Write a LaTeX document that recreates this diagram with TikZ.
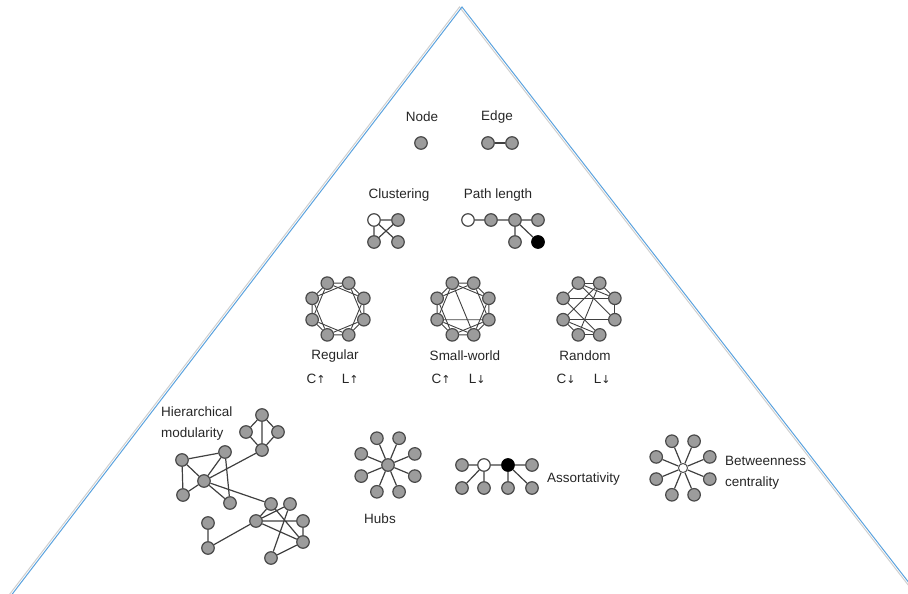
\documentclass[tikz,border=0pt]{standalone}
\usepackage{fontspec}
\setmainfont{Liberation Sans}
\newfontfamily\arrowfont{DejaVu Sans}
\usetikzlibrary{positioning,calc}
\definecolor{vertexfill}{HTML}{9C9C9C}
\definecolor{vertexline}{HTML}{4A4A4A}
\definecolor{linkcol}{HTML}{404040}
\definecolor{pyrblue}{HTML}{5AA2DE}
\definecolor{pyrgray}{HTML}{CFCFCF}
\definecolor{textcol}{HTML}{262626}
\tikzset{
  vertex/.style={circle, draw=vertexline, fill=vertexfill, line width=1.2pt,
    minimum size=12.5pt, inner sep=0pt},
  whitevertex/.style={vertex, fill=white},
  blackvertex/.style={vertex, fill=black, draw=black},
  link/.style={draw=linkcol, line width=1.2pt},
  thinlink/.style={draw=linkcol, line width=0.9pt},
  caption/.style={font=\fontsize{13.5}{21}\selectfont, text=textcol, inner sep=1pt},
}
\newcommand{\up}{{\arrowfont\fontsize{11}{13}\selectfont\char"2191}}
\newcommand{\dn}{{\arrowfont\fontsize{11}{13}\selectfont\char"2193}}

\begin{document}
\begin{tikzpicture}[x=1pt, y=-1pt]
    \useasboundingbox (0,0) rectangle (908,594);
    % pyramid outline, gray shadow then blue line
    \coordinate (apex) at (462,7);
    \coordinate (baseL) at (10,597);
    \coordinate (baseR) at (920,597);
    \draw [pyrgray, line width=1pt] ([xshift=-2.5pt]baseL) -- ([xshift=-2.5pt]apex) -- ([xshift=-2.5pt]baseR);
    \draw [pyrblue, line width=1pt] (baseL) -- (apex) -- (baseR);

    % level 1: node and edge
    \node [caption] (nodelbl) at (422,117) {Node};
    \node [vertex] (single) at (421,143) {};
    \node [caption] (edgelbl) at (497,117) {Edge};
    \node [vertex] (e1) at (488,143) {};
    \node [vertex] (e2) at (512,143) {};
    \draw [link] (e1) -- (e2);

    % level 2: clustering and path length
    \node [caption] (clustlbl) at (399,195) {Clustering};
    \node [whitevertex] (c1) at (374,220) {};
    \node [vertex] (c2) at (398,220) {};
    \node [vertex] (c3) at (374,242) {};
    \node [vertex] (c4) at (398,242) {};
    \draw [link] (c1) -- (c2) (c1) -- (c3) (c1) -- (c4) (c2) -- (c3);

    \node [caption] (pathlbl) at (498,195) {Path length};
    \node [whitevertex] (p1) at (468,220) {};
    \node [vertex] (p2) at (491,220) {};
    \node [vertex] (p3) at (515,220) {};
    \node [vertex] (p4) at (538,220) {};
    \node [vertex] (p5) at (515,242) {};
    \node [blackvertex] (p6) at (538,242) {};
    \draw [link] (p1) -- (p2) -- (p3) -- (p4) (p3) -- (p5) (p3) -- (p6);

    % level 3: regular, small-world, random
    \foreach \k in {0,...,7} {
      \node [vertex] (reg\k) at ($(338,309)+({45*\k-112.5}:28)$) {};
      \node [vertex] (sw\k) at ($(463,309)+({45*\k-112.5}:28)$) {};
      \node [vertex] (rnd\k) at ($(589,309)+({45*\k-112.5}:28)$) {};
    }
    \foreach \k in {0,...,7} {
      \pgfmathtruncatemacro\nxt{mod(\k+1,8)}
      \pgfmathtruncatemacro\skp{mod(\k+2,8)}
      \draw [thinlink] (reg\k) -- (reg\nxt) (reg\k) -- (reg\skp);
      \draw [thinlink] (sw\k) -- (sw\nxt) (sw\k) -- (sw\skp);
    }
    \draw [thinlink] (sw0) -- (sw4) (sw6) -- (sw3);
    \foreach \a/\b in {0/1,0/7,1/2,2/3,7/2,7/4,0/3,1/6,1/5,6/4,5/4,6/3,0/2,6/5} {
      \draw [thinlink] (rnd\a) -- (rnd\b);
    }

    \node [caption] (reglbl) at (335,356) {Regular};
    \node [caption] (regC) at (316,379) {C\up};
    \node [caption, right=14pt of regC] (regL) {L\up};
    \node [caption] (swlbl) at (465,356) {Small-world};
    \node [caption] (swC) at (441,379) {C\up};
    \node [caption, right=16pt of swC] (swL) {L\dn};
    \node [caption] (rndlbl) at (585,356) {Random};
    \node [caption] (rndC) at (566,379) {C\dn};
    \node [caption, right=16pt of rndC] (rndL) {L\dn};

    % level 4: hierarchical modularity
    \node [caption, align=left, anchor=west] (hierlbl) at (160,424) {Hierarchical\\modularity};
    \node [vertex] (d1) at (262,415) {};
    \node [vertex] (d2) at (246,432) {};
    \node [vertex] (d3) at (278,432) {};
    \node [vertex] (d4) at (262,450) {};
    \draw [link] (d1) -- (d2) -- (d4) -- (d3) -- (d1) (d1) -- (d4);

    \node [vertex] (m1) at (182,460) {};
    \node [vertex] (m2) at (225,452) {};
    \node [vertex] (mh) at (204,481) {};
    \node [vertex] (m3) at (183,495) {};
    \node [vertex] (m4) at (230,503) {};
    \draw [link] (m1) -- (m2) (m1) -- (m3) (m1) -- (mh) (m2) -- (mh)
      (m2) -- (m4) (mh) -- (m3) (mh) -- (m4) (mh) -- (d4);

    \node [vertex] (n1) at (271,504) {};
    \node [vertex] (n2) at (290,504) {};
    \node [vertex] (n3) at (256,521) {};
    \node [vertex] (n4) at (303,521) {};
    \node [vertex] (n5) at (303,542) {};
    \node [vertex] (n6) at (271,558) {};
    \draw [link] (mh) -- (n1) (n3) -- (n1) (n3) -- (n2) (n3) -- (n4) (n3) -- (n5)
      (n1) -- (n5) (n2) -- (n6) (n6) -- (n5) (n4) -- (n5);

    \node [vertex] (l1) at (208,523) {};
    \node [vertex] (l2) at (208,548) {};
    \draw [link] (l1) -- (l2) -- (n3);

    % hubs
    \node [vertex] (hub) at (388,465) {};
    \foreach \k in {0,...,7} {
      \node [vertex] (hb\k) at ($(388,465)+({45*\k-112.5}:29)$) {};
      \draw [link] (hub) -- (hb\k);
    }
    \node [caption] (hublbl) at (380,519) {Hubs};

    % assortativity
    \node [vertex] (a1) at (462,465) {};
    \node [whitevertex] (a2) at (484,465) {};
    \node [blackvertex] (a3) at (508,465) {};
    \node [vertex] (a4) at (532,465) {};
    \node [vertex] (a5) at (462,488) {};
    \node [vertex] (a6) at (484,488) {};
    \node [vertex] (a7) at (508,488) {};
    \node [vertex] (a8) at (532,488) {};
    \draw [link] (a1) -- (a2) -- (a3) -- (a4) (a2) -- (a5) (a2) -- (a6) (a3) -- (a7) (a3) -- (a8);
    \node [caption, anchor=west] (assortlbl) at (546,479) {Assortativity};

    % betweenness centrality
    \node [whitevertex, minimum size=9pt, line width=0.9pt] (btw) at (683,468) {};
    \foreach \k in {0,...,7} {
      \node [vertex] (bt\k) at ($(683,468)+({45*\k-112.5}:29)$) {};
      \draw [link] (btw) -- (bt\k);
    }
    \node [caption, align=left, anchor=west] (btwlbl) at (724,473) {Betweenness\\centrality};
  \end{tikzpicture}
\end{document}
